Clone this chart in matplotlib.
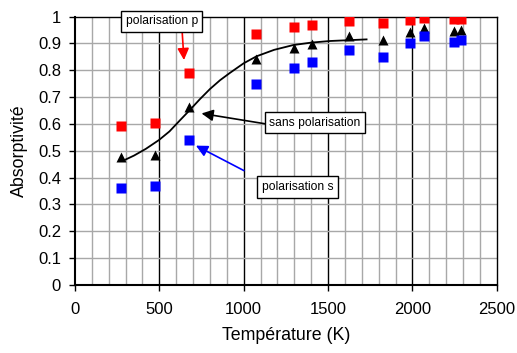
import matplotlib.pyplot as plt
from matplotlib.ticker import MultipleLocator

plt.rcParams['font.family'] = ['Liberation Sans', 'DejaVu Sans']

# temperatures (K)
temp = [271, 474, 673, 1073, 1297, 1402, 1625, 1828, 1985, 2071, 2245, 2289]
# absorptivity values
pol_p = [0.593, 0.602, 0.789, 0.936, 0.963, 0.970, 0.984, 0.977, 0.989, 0.994, 0.991, 0.991]
sans_pol = [0.477, 0.485, 0.664, 0.842, 0.884, 0.899, 0.927, 0.911, 0.942, 0.958, 0.948, 0.951]
pol_s = [0.362, 0.370, 0.541, 0.748, 0.809, 0.830, 0.877, 0.849, 0.900, 0.926, 0.907, 0.912]

# fitted curve
fit_t = [286, 350, 420, 498, 560, 620, 681, 740, 800, 860, 918, 1000, 1076, 1180, 1294, 1400, 1511, 1620, 1728]
fit_v = [0.463, 0.482, 0.507, 0.540, 0.572, 0.612, 0.652, 0.692, 0.730, 0.763, 0.790, 0.826, 0.852, 0.876, 0.894, 0.903, 0.909, 0.912, 0.915]

fig = plt.figure(figsize=(5.17, 3.53), dpi=100)
ax = fig.add_axes([0.145, 0.193, 0.816, 0.760])

# grid: light every 100 K / 0.1, dark every 500 K
for t in range(100, 2500, 100):
    ax.axvline(t, color='#000000' if t % 500 == 0 else '#a8a8a8', lw=1.0, zorder=0)
for v in range(1, 10):
    ax.axhline(v / 10, color='#a8a8a8', lw=1.0, zorder=0)

ax.plot(fit_t, fit_v, color='black', lw=1.3, zorder=2)
ax.plot(temp, pol_p, 's', color='#ff0000', ms=6.5, mec='none', zorder=3)
ax.plot(temp, sans_pol, '^', color='black', ms=7, mec='none', zorder=3)
ax.plot(temp, pol_s, 's', color='#0000ff', ms=6.5, mec='none', zorder=3)

box = dict(boxstyle='square,pad=0.38', fc='white', ec='black', lw=1.0)
ax.text(514, 0.983, 'polarisation p', fontsize=8.7, ha='center', va='center', bbox=box, zorder=5)
ax.text(1422, 0.604, 'sans polarisation', fontsize=8.7, ha='center', va='center', bbox=box, zorder=5)
ax.text(1320, 0.365, 'polarisation s', fontsize=8.7, ha='center', va='center', bbox=box, zorder=5)

arrows = [((635, 0.946), (646, 0.838), '#ff0000'),
          ((1131, 0.600), (750, 0.639), 'black'),
          ((1001, 0.426), (717, 0.519), '#0000ff')]
for start, tip, col in arrows:
    ax.annotate('', xy=tip, xytext=start, zorder=4,
                arrowprops=dict(arrowstyle='-|>,head_length=0.6,head_width=0.3', color=col,
                                lw=1.2, shrinkA=0, shrinkB=0, mutation_scale=11.5))

ax.set_xlim(0, 2500)
ax.set_ylim(0, 1)
ax.xaxis.set_major_locator(MultipleLocator(500))
ax.set_yticks([i / 10 for i in range(11)])
ax.set_yticklabels(['0', '0.1', '0.2', '0.3', '0.4', '0.5', '0.6', '0.7', '0.8', '0.9', '1'])
ax.tick_params(labelsize=12, length=4.5, width=1, direction='out', colors='black')
ax.tick_params(axis='x', pad=8)
ax.tick_params(axis='y', pad=5.5)
for s in ax.spines.values():
    s.set_linewidth(1.0)
ax.spines['left'].set_linewidth(1.5)
ax.spines['bottom'].set_linewidth(1.5)

ax.set_xlabel('Température (K)', fontsize=12.8, labelpad=7)
ax.set_ylabel('Absorptivité', fontsize=12.8, labelpad=7)

fig.savefig('out.png', dpi=100)
